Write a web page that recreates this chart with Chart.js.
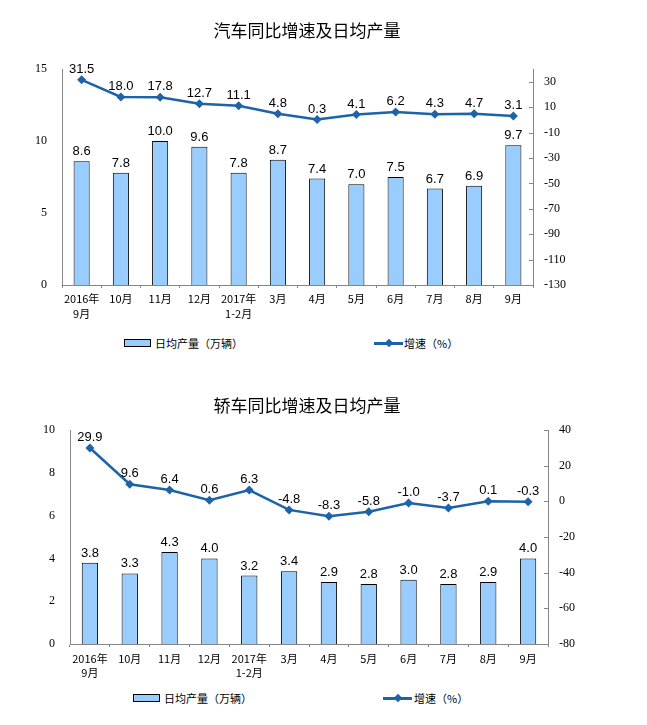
<!DOCTYPE html>
<html>
<head>
<meta charset="utf-8">
<script src="https://cdn.jsdelivr.net/npm/chart.js@4.4.1/dist/chart.umd.min.js"></script>
<style>
  html, body { margin: 0; padding: 0; background: #fff; }
  #wrap { position: relative; width: 647px; height: 725px; overflow: hidden; font-family: "Noto Sans CJK SC", sans-serif; }
  .cv { position: absolute; left: 0; }
  .lg { position: absolute; font-size: 11px; color: #000; line-height: 14px; white-space: nowrap; }
  .sw { position: absolute; border: 1px solid #000; background: #99CCFF; box-sizing: border-box; }
  .ln { position: absolute; height: 2.5px; background: #1C63A8; }
  .dm { position: absolute; width: 6px; height: 6px; background: #1C63A8; transform: rotate(45deg); }
</style>
</head>
<body>
<div id="wrap">
  <div class="cv" style="top:0;width:614px;height:325px;"><canvas id="c1"></canvas></div>
  <div class="cv" style="top:380px;width:614px;height:310px;"><canvas id="c2"></canvas></div>

  <div class="sw" style="left:124px;top:339px;width:27px;height:8px;"></div>
  <div class="lg" style="left:155px;top:336px;" id="l1a"></div>
  <div class="ln" style="left:374px;top:342px;width:29px;"></div>
  <div class="dm" style="left:386px;top:340px;"></div>
  <div class="lg" style="left:404px;top:336px;" id="l1b"></div>

  <div class="sw" style="left:133px;top:694px;width:27px;height:8px;"></div>
  <div class="lg" style="left:164px;top:691px;" id="l2a"></div>
  <div class="ln" style="left:383px;top:697px;width:29px;"></div>
  <div class="dm" style="left:395px;top:695px;"></div>
  <div class="lg" style="left:414px;top:691px;" id="l2b"></div>
</div>
<script>
// ---------- data ----------
const categories = [['2016年','9月'], '10月', '11月', '12月', ['2017年','1-2月'], '3月', '4月', '5月', '6月', '7月', '8月', '9月'];
const barLabel = '日均产量（万辆）';
const lineLabel = '增速（%）';

const title1 = '汽车同比增速及日均产量';
const autoDaily = [8.6, 7.8, 10.0, 9.6, 7.8, 8.7, 7.4, 7.0, 7.5, 6.7, 6.9, 9.7];
const autoGrowth = [31.5, 18.0, 17.8, 12.7, 11.1, 4.8, 0.3, 4.1, 6.2, 4.3, 4.7, 3.1];
const autoLeftTicks = [0, 5, 10, 15];
const autoRightTicks = [-130, -110, -90, -70, -50, -30, -10, 10, 30];

const title2 = '轿车同比增速及日均产量';
const carDaily = [3.8, 3.3, 4.3, 4.0, 3.2, 3.4, 2.9, 2.8, 3.0, 2.8, 2.9, 4.0];
const carGrowth = [29.9, 9.6, 6.4, 0.6, 6.3, -4.8, -8.3, -5.8, -1.0, -3.7, 0.1, -0.3];
const carLeftTicks = [0, 2, 4, 6, 8, 10];
const carRightTicks = [-80, -60, -40, -20, 0, 20, 40];

document.getElementById('l1a').textContent = barLabel;
document.getElementById('l1b').textContent = lineLabel;
document.getElementById('l2a').textContent = barLabel;
document.getElementById('l2b').textContent = lineLabel;

// ---------- style ----------
const BAR_FILL = '#99CCFF';
const LINE_COL = '#1C63A8';
const AXIS_COL = '#868686';
const SERIF = '"Liberation Serif", "Times New Roman", serif';
const SANS = '"Liberation Sans", Arial, sans-serif';
const CJK = '"Noto Sans CJK SC", sans-serif';

const valueLabels = {
  id: 'valueLabels',
  afterDatasetsDraw(chart) {
    const ctx = chart.ctx;
    ctx.save();
    ctx.font = '13px ' + SANS;
    ctx.fillStyle = '#000';
    ctx.textAlign = 'center';
    ctx.textBaseline = 'bottom';
    chart.data.datasets.forEach((ds, i) => {
      const meta = chart.getDatasetMeta(i);
      meta.data.forEach((el, j) => {
        const off = ds.type === 'line' ? 4 : 3;
        ctx.fillText(ds.data[j].toFixed(1), el.x, el.y - off);
      });
    });
    ctx.restore();
  }
};

const innerTicks = {
  id: 'innerTicks',
  afterDraw(chart) {
    const s = chart.scales.y1;
    const ctx = chart.ctx;
    ctx.save();
    ctx.strokeStyle = AXIS_COL;
    ctx.lineWidth = 1;
    s.ticks.forEach(t => {
      const y = Math.round(s.getPixelForValue(t.value)) + 0.5;
      ctx.beginPath();
      ctx.moveTo(s.left, y);
      ctx.lineTo(s.left - 4, y);
      ctx.stroke();
    });
    ctx.restore();
  }
};

function makeChart(id, cfg) {
  return new Chart(document.getElementById(id), {
    data: {
      labels: categories,
      datasets: [
        { type: 'line', label: lineLabel, data: cfg.growth, yAxisID: 'y1', borderColor: LINE_COL, backgroundColor: LINE_COL,
          borderWidth: 2.5, pointStyle: 'rectRot', pointRadius: 4.5, pointBackgroundColor: LINE_COL, pointBorderWidth: 0,
          tension: 0, order: 0 },
        { type: 'bar', label: barLabel, data: cfg.daily, yAxisID: 'y', backgroundColor: BAR_FILL, borderColor: '#000',
          borderWidth: 1, barPercentage: 0.41, categoryPercentage: 1, order: 1 }
      ]
    },
    options: {
      responsive: true,
      maintainAspectRatio: false,
      animation: false,
      devicePixelRatio: 1,
      layout: { padding: 0 },
      plugins: {
        legend: { display: false },
        tooltip: { enabled: false },
        title: { display: true, text: cfg.title, color: '#000', font: { family: CJK, size: 17, weight: 'normal', lineHeight: 1.2 },
                 padding: cfg.titlePad }
      },
      scales: {
        x: {
          offset: true,
          grid: { display: true, offset: true, drawOnChartArea: false, drawTicks: true, tickLength: 3, color: AXIS_COL },
          border: { display: true, color: AXIS_COL, width: 1 },
          ticks: { color: '#000', padding: cfg.xPad, font: { family: CJK, size: 11, lineHeight: cfg.xLH }, maxRotation: 0, autoSkip: false },
          afterFit: s => { s.height = cfg.xH; }
        },
        y: {
          position: 'left',
          min: cfg.leftTicks[0], max: cfg.leftTicks[cfg.leftTicks.length - 1],
          afterBuildTicks: s => { s.ticks = cfg.leftTicks.map(v => ({ value: v })); },
          grid: { display: false, drawTicks: false },
          border: { display: true, color: AXIS_COL, width: 1 },
          ticks: { color: '#000', padding: 15, font: { family: SERIF, size: 12 } },
          afterFit: s => { s.width = cfg.leftW; }
        },
        y1: {
          position: 'right',
          min: cfg.rightMin, max: cfg.rightMax,
          afterBuildTicks: s => { s.ticks = cfg.rightTicks.map(v => ({ value: v })); },
          grid: { display: false, drawTicks: false },
          border: { display: true, color: AXIS_COL, width: 1 },
          ticks: { color: '#000', padding: 11, font: { family: SERIF, size: 12 } },
          afterFit: s => { s.width = cfg.rightW; }
        }
      }
    },
    plugins: [valueLabels, innerTicks]
  });
}

makeChart('c1', {
  title: title1, daily: autoDaily, growth: autoGrowth,
  leftTicks: autoLeftTicks, rightTicks: autoRightTicks, rightMin: -130, rightMax: 40,
  titlePad: { top: 20, bottom: 28.6 }, xH: 40, xPad: 4, xLH: 1.3, leftW: 62, rightW: 614 - 533
});
makeChart('c2', {
  title: title2, daily: carDaily, growth: carGrowth,
  leftTicks: carLeftTicks, rightTicks: carRightTicks, rightMin: -80, rightMax: 40,
  titlePad: { top: 15.8, bottom: 13.8 }, xH: 46, xPad: 4, xLH: 1.35, leftW: 70, rightW: 614 - 548
});
</script>
</body>
</html>
